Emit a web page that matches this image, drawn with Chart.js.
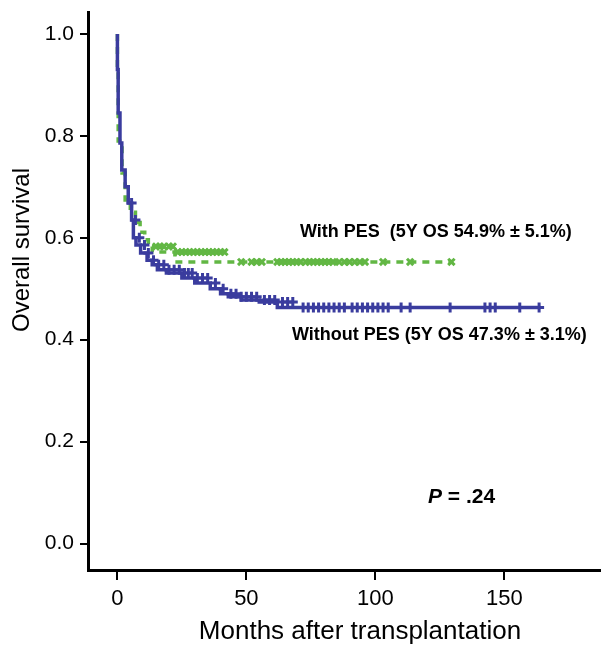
<!DOCTYPE html>
<html>
<head>
<meta charset="utf-8">
<script src="https://cdn.jsdelivr.net/npm/chart.js@4/dist/chart.umd.min.js"></script>
<style>
  body { margin: 0; background: #fff; }
  canvas { display: block; }
</style>
</head>
<body>
<canvas id="chart" width="601" height="645"></canvas>
<script>
// Kaplan-Meier steps: time of each drop (months) and survival after it
const withoutTime = [0, 0.3, 1, 1.7, 3, 4.2, 5.5, 6.2, 7.2, 9, 11.5, 13.5, 15.5, 19, 25, 30, 36, 40, 43, 48, 55, 62, 70, 164];
const withoutSurv = [1.0, 0.93, 0.845, 0.786, 0.733, 0.70, 0.668, 0.635, 0.60, 0.586, 0.57, 0.556, 0.547, 0.537, 0.531, 0.521, 0.511, 0.50, 0.49, 0.484, 0.478, 0.474, 0.463, 0.463];
const withoutCensor = [5.5, 7, 8.5, 10.5, 12, 14, 16, 18, 20, 22, 24, 26, 27.5, 29, 31, 33, 35, 38, 41, 44, 46, 48, 50, 52, 54, 57, 59, 61, 64, 66, 68, 72, 74, 76, 78, 80, 82, 84, 86, 88, 91, 93, 95, 97, 99, 101, 103, 105, 110, 113.5, 129, 142.5, 144.5, 146.5, 156, 163.5];

const withTime = [0, 0.3, 1.8, 3, 5, 7, 8.8, 10.6, 12, 13.5, 22.3, 42.8, 130];
const withSurv = [1.0, 0.93, 0.79, 0.727, 0.674, 0.65, 0.63, 0.611, 0.596, 0.583, 0.572, 0.5525, 0.5525];
const withCensor = [15, 16.5, 18, 20, 21.5, 23.5, 25, 26.5, 28, 29.5, 31, 32.5, 34, 35.5, 37, 38.5, 40, 41.5, 48, 52, 54, 56, 62, 63.5, 65, 66.5, 68, 69.5, 71, 73, 74.5, 76, 77.5, 79, 80.5, 82, 83.5, 86, 88, 90, 92, 94, 96, 103, 113.5, 129.5];

const xTicks = [0, 50, 100, 150];
const yTicks = [0, 0.2, 0.4, 0.6, 0.8, 1.0];

const BLUE = '#3a3c9e';
const GREEN = '#62b744';
const FONT = '"Liberation Sans", Arial, Helvetica, sans-serif';

function survAt(times, surv, t) {
  let s = surv[0];
  for (let i = 0; i < times.length; i++) {
    if (times[i] <= t) s = surv[i];
  }
  return s;
}

const toPts = (xs, ys) => xs.map((x, i) => ({ x: x, y: ys[i] }));
const censorPts = (cs, times, surv) => cs.map(t => ({ x: t, y: survAt(times, surv, t) }));

const textPlugin = {
  id: 'labels',
  afterDraw(chart) {
    const c = chart.ctx;
    c.save();
    c.fillStyle = '#000';
    c.textBaseline = 'middle';
    c.textAlign = 'left';
    c.font = 'bold 18px ' + FONT;
    c.fillText('With PES  (5Y OS 54.9% \u00b1 5.1%)', 300, 232);
    c.fillText('Without PES (5Y OS 47.3% \u00b1 3.1%)', 292, 335);

    c.font = 'italic bold 21px ' + FONT;
    c.fillText('P', 428, 497);
    const w = c.measureText('P').width;
    c.font = 'bold 21px ' + FONT;
    c.fillText(' = .24', 428 + w, 497);

    c.textAlign = 'center';
    c.font = '26px ' + FONT;
    c.fillText('Months after transplantation', 360, 632);

    c.translate(22, 250);
    c.rotate(-Math.PI / 2);
    c.font = '24px ' + FONT;
    c.fillText('Overall survival', 0, 0);
    c.restore();
  }
};

new Chart(document.getElementById('chart'), {
  type: 'scatter',
  data: {
    datasets: [
      {
        label: 'Without PES',
        data: toPts(withoutTime, withoutSurv),
        showLine: true,
        stepped: 'after',
        borderColor: BLUE,
        borderWidth: 3.5,
        pointRadius: 0
      },
      {
        label: 'Without PES censored',
        data: censorPts(withoutCensor, withoutTime, withoutSurv),
        pointStyle: 'cross',
        pointRadius: 5,
        borderColor: BLUE,
        borderWidth: 3
      },
      {
        label: 'With PES',
        data: toPts(withTime, withSurv),
        showLine: true,
        stepped: 'after',
        borderColor: GREEN,
        borderWidth: 3.5,
        borderDash: [7, 6],
        pointRadius: 0
      },
      {
        label: 'With PES censored',
        data: censorPts(withCensor, withTime, withSurv),
        pointStyle: 'crossRot',
        pointRadius: 4.5,
        borderColor: GREEN,
        borderWidth: 3
      }
    ]
  },
  options: {
    responsive: false,
    animation: false,
    layout: { autoPadding: false, padding: { top: 12, right: 0, left: 0, bottom: 0 } },
    plugins: {
      legend: { display: false },
      tooltip: { enabled: false }
    },
    scales: {
      x: {
        type: 'linear',
        min: -11.4,
        max: 187.5,
        afterBuildTicks: s => { s.ticks = xTicks.map(v => ({ value: v })); },
        afterFit: s => { s.height = 75; s.paddingLeft = 0; s.paddingRight = 0; },
        grid: { drawOnChartArea: false, drawTicks: true, tickLength: 10, color: '#000', lineWidth: 2 },
        border: { display: true, color: '#000', width: 3 },
        ticks: { color: '#000', padding: 6, font: { family: FONT, size: 22 } }
      },
      y: {
        type: 'linear',
        min: -0.052,
        max: 1.043,
        afterBuildTicks: s => { s.ticks = yTicks.map(v => ({ value: v })); },
        afterFit: s => { s.width = 88; s.paddingTop = 0; s.paddingBottom = 0; },
        grid: { drawOnChartArea: false, drawTicks: true, tickLength: 8, color: '#000', lineWidth: 2 },
        border: { display: true, color: '#000', width: 3 },
        ticks: { color: '#000', padding: 6, font: { family: FONT, size: 21 }, callback: v => v.toFixed(1) }
      }
    }
  },
  plugins: [textPlugin]
});
</script>
</body>
</html>
